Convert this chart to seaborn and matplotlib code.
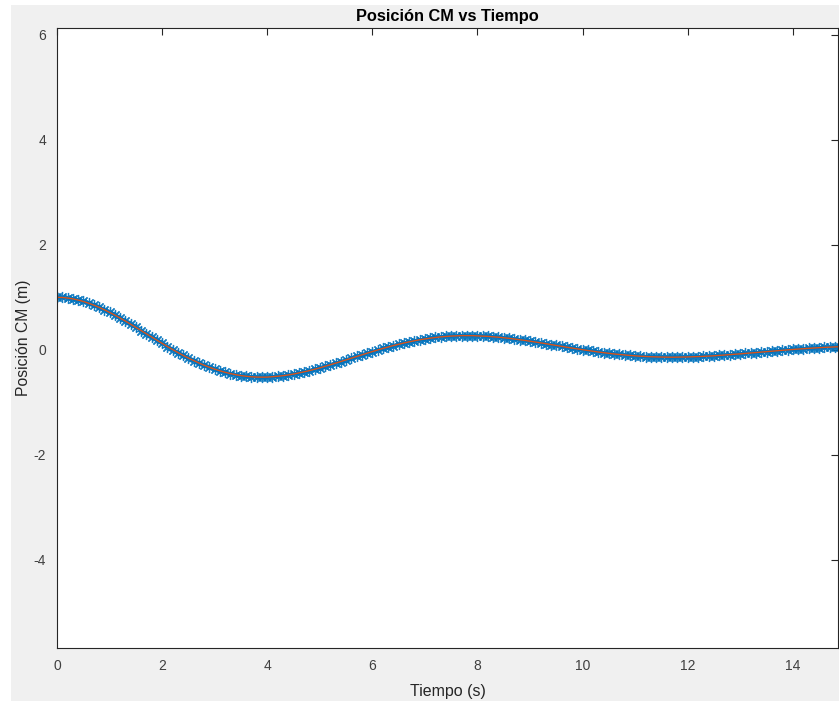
import numpy as np
import pandas as pd
import matplotlib
matplotlib.use("Agg")
import matplotlib.pyplot as plt
from matplotlib.patches import Rectangle
import seaborn as sns

# Data (time step 0.1 s)
tiempo = [round(0.1 * i, 1) for i in range(151)]
posicion = [
    1.000, 0.997, 0.987, 0.971, 0.949, 0.921, 0.888, 0.851, 0.809, 0.763,
    0.713, 0.661, 0.605, 0.548, 0.489, 0.428, 0.367, 0.305, 0.243, 0.182,
    0.121, 0.062, 0.004, -0.052, -0.106, -0.157, -0.205, -0.251, -0.294, -0.333,
    -0.368, -0.400, -0.429, -0.453, -0.474, -0.491, -0.504, -0.514, -0.519, -0.521,
    -0.520, -0.513, -0.504, -0.493, -0.479, -0.462, -0.442, -0.420, -0.397, -0.371,
    -0.344, -0.315, -0.285, -0.255, -0.223, -0.191, -0.159, -0.127, -0.095, -0.064,
    -0.033, -0.003, 0.026, 0.054, 0.081, 0.106, 0.130, 0.152, 0.172, 0.191,
    0.207, 0.222, 0.235, 0.246, 0.255, 0.262, 0.267, 0.270, 0.271, 0.270,
    0.266, 0.262, 0.256, 0.249, 0.240, 0.230, 0.219, 0.206, 0.193, 0.179,
    0.164, 0.148, 0.133, 0.116, 0.100, 0.083, 0.066, 0.050, 0.033, 0.017,
    0.002, -0.013, -0.028, -0.042, -0.055, -0.067, -0.079, -0.089, -0.099, -0.107,
    -0.115, -0.122, -0.128, -0.132, -0.136, -0.138, -0.140, -0.141, -0.140, -0.138,
    -0.136, -0.133, -0.129, -0.125, -0.120, -0.114, -0.107, -0.100, -0.093, -0.085,
    -0.077, -0.069, -0.061, -0.052, -0.043, -0.035, -0.026, -0.018, -0.009, -0.001,
    0.007, 0.014, 0.021, 0.028, 0.035, 0.041, 0.046, 0.051, 0.056, 0.060,
    0.063,
]
x_ticks = [0, 2, 4, 6, 8, 10, 12, 14]
y_ticks = [-4, -2, 0, 2, 4, 6]

df = pd.DataFrame({"t": tiempo, "x": posicion})

sns.set_style("white")
plt.rcParams["font.family"] = ["Liberation Sans", "DejaVu Sans"]

W, H = 839, 701
fig = plt.figure(figsize=(W / 100, H / 100), dpi=100, facecolor="white")
fig.patches.append(Rectangle((11 / W, 0), 1 - 11 / W, 696 / H,
                             transform=fig.transFigure, facecolor="#F0F0F0",
                             edgecolor="none", zorder=-10))

ax = fig.add_axes([57 / W, (H - 648) / H, (838 - 57) / W, (648 - 28) / H])
ax.set_facecolor("white")

sns.lineplot(data=df, x="t", y="x", ax=ax, color="#0072BD", linewidth=2.2,
             marker=(8, 2, 0), markersize=8, markeredgecolor="#0072BD",
             markeredgewidth=0.9, estimator=None, sort=False, alpha=0.9)
sns.lineplot(data=df, x="t", y="x", ax=ax, color="#D95319", linewidth=1.0,
             estimator=None, sort=False)

ax.set_xlim(0, 14.86)
ax.set_ylim(-5.68, 6.13)
ax.set_xticks(x_ticks)
ax.set_yticks(y_ticks)
ax.set_xticklabels([str(v) for v in x_ticks])
ax.set_yticklabels([str(v) for v in y_ticks])

dark = "#262626"
for s in ax.spines.values():
    s.set_visible(True)
    s.set_color(dark)
    s.set_linewidth(0.8)
ax.tick_params(axis="both", direction="in", length=5, width=0.8, colors=dark,
               labelsize=10, top=True, right=True, labeltop=False, labelright=False,
               pad=8)
for lbl in ax.get_xticklabels() + ax.get_yticklabels():
    lbl.set_color("#404040")

ax.set_xlabel("Tiempo (s)", fontsize=11.5, color=dark, labelpad=8)
ax.set_ylabel("Posición CM (m)", fontsize=11.3, color=dark, labelpad=2)
ax.set_title("Posición CM vs Tiempo", fontsize=11.8, fontweight="bold", color="black", pad=5)

fig.savefig("out.png", dpi=100, facecolor=fig.get_facecolor())
